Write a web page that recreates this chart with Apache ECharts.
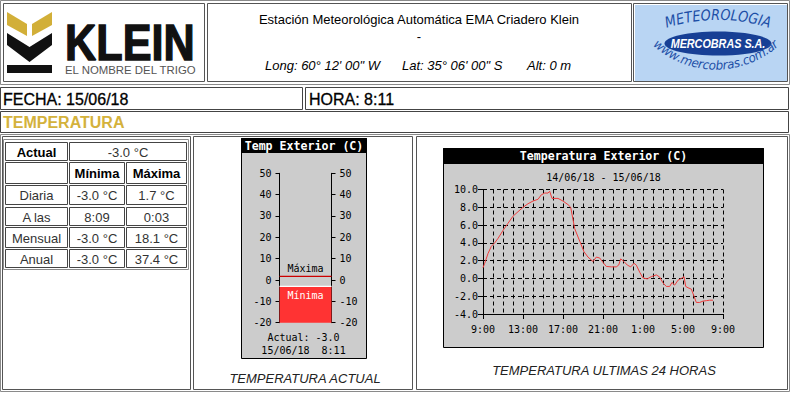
<!DOCTYPE html>
<html><head><meta charset="utf-8">
<script src="https://cdn.jsdelivr.net/npm/echarts@6/dist/echarts.min.js"></script>
<style>html,body{margin:0;padding:0;background:#fff}#c{width:791px;height:393px}</style>
</head><body><div id="c"></div>
<script>
// ---------------- DATA ----------------
const stationTitle = 'Estación Meteorológica Automática EMA Criadero Klein';
const coordTexts = ['Long: 60° 12\' 00" W', 'Lat: 35° 06\' 00" S', 'Alt: 0 m'];
const fecha = '15/06/18';
const hora = '8:11';
const actualTemp = -3.0;
const statRows = ['Diaria', 'A las', 'Mensual', 'Anual'];
const statMin = ['-3.0 °C', '8:09', '-3.0 °C', '-3.0 °C'];
const statMax = ['1.7 °C', '0:03', '18.1 °C', '37.4 °C'];
const dayMin = -3.0;
const dayMax = 1.7;
const thermoScale = [-20, 50, 10];          // min, max, step
const hoursFrom9 = [0, 0.17, 0.5, 0.83, 1.17, 1.5, 2, 2.5, 3, 3.5, 4, 4.5, 5, 5.5, 5.83, 6.17, 6.5, 6.67, 6.9, 7.5, 8, 8.5, 8.77, 9.17, 9.67, 10.1, 10.5, 11, 11.33, 11.67, 12, 12.33, 12.83, 13.33, 13.57, 13.77, 14.1, 14.43, 14.77, 15.1, 15.33, 15.67, 16, 16.43, 16.83, 17.33, 17.67, 18, 18.33, 18.67, 18.9, 19.17, 19.5, 19.83, 20.1, 20.27, 20.5, 20.83, 21.1, 21.33, 21.67, 22, 22.33, 22.67, 23];
const temps24 = [1.2, 1.7, 2.8, 3.6, 4.0, 4.5, 5.4, 6.2, 7.0, 7.5, 8.0, 8.4, 8.7, 8.9, 9.4, 9.6, 9.6, 9.8, 9.0, 9.0, 8.7, 8.3, 8.0, 5.6, 4.2, 3.0, 2.4, 1.9, 2.4, 2.3, 1.8, 1.35, 1.3, 1.3, 1.5, 2.2, 1.9, 1.5, 1.3, 1.7, 1.5, 0.7, 0.05, -0.05, 0.2, 0.4, 0.15, -0.5, -0.9, -0.9, -0.45, -0.75, -0.2, 0.0, 0.2, -0.9, -1.05, -1.2, -2.0, -2.7, -2.7, -2.55, -2.5, -2.45, -2.45];
const timeLabels = ['9:00', '13:00', '17:00', '21:00', '1:00', '5:00', '9:00'];
const tempScale = [-4, 10, 2];
const dateRange = '14/06/18 - 15/06/18';

// ---------------- STYLE HELPERS ----------------
const SANS = '"Liberation Sans", Arial, sans-serif';
const MONO = '"DejaVu Sans Mono", monospace';
const GOLD = '#d4b23c';
const els = [];
function R(x, y, w, h, stroke, fill, z) {
  els.push({type: 'rect', z: z == null ? -5 : z, shape: {x, y, width: w, height: h},
    style: {fill: fill || 'none', stroke: stroke || null, lineWidth: 1}, silent: true});
}
function T(x, y, text, font, fill, align, extra, styleExtra) {
  els.push(Object.assign({type: 'text', z: 10, x, y, silent: true,
    style: Object.assign({text, font, fill: fill || '#000', align: align || 'left', verticalAlign: 'middle'}, styleExtra || {})}, extra || {}));
}
function P(points, fill) {
  els.push({type: 'polygon', z: -3, shape: {points}, style: {fill}, silent: true});
}
const mctx = document.createElement('canvas').getContext('2d');
function arcText(str, cx, cy, rad, font, fill, top, sx) {
  mctx.font = font;
  const chars = [...str];
  const w = chars.map(c => mctx.measureText(c).width * sx);
  const total = w.reduce((a, b) => a + b, 0);
  let off = -total / 2;
  chars.forEach((ch, i) => {
    const a = (off + w[i] / 2) / rad; off += w[i];
    const x = cx + rad * Math.sin(a);
    const y = top ? cy - rad * Math.cos(a) : cy + rad * Math.cos(a);
    els.push({type: 'text', z: 10, x, y, rotation: top ? -a : a, scaleX: sx, silent: true,
      style: {text: ch, font, fill, align: 'center', verticalAlign: 'bottom'}});
  });
}

// ---------------- TOP HEADER ----------------
R(0.5, 0.5, 789, 84, '#8a8a8a');
R(3.5, 3.5, 201, 78, '#555');
R(207.5, 3.5, 424, 78, '#555');
R(633.5, 3.5, 154, 78, '#555');
// Klein logo
P([[7, 12], [27, 24], [27, 36], [7, 25]], '#d2af38');
P([[32, 24], [52, 12], [52, 25], [32, 36]], '#d2af38');
P([[7, 33], [29.5, 47], [52, 33], [52, 45], [29.5, 62], [7, 45]], '#111');
P([[7, 65], [52, 65], [52, 73], [7, 73]], '#111');
T(65, 43, 'KLEIN', 'bold 50px ' + SANS, '#111', 'left', {scaleX: 0.865}, {stroke: '#111', lineWidth: 1.4});
T(65, 70, 'EL NOMBRE DEL TRIGO', '11.4px ' + SANS, '#555');
// Mercobras logo
R(635, 5, 152, 76, null, '#b9d5f3', -4);
els.push({type: 'ellipse', z: -2, shape: {cx: 718, cy: 43.5, rx: 53.5, ry: 12}, style: {fill: '#173f95'}, silent: true});
T(718, 44, 'MERCOBRAS S.A.', 'italic bold 12px ' + SANS, '#fff', 'center', {scaleX: 0.9});
arcText('METEOROLOGIA', 718, 190, 168, 'italic 15px "DejaVu Sans"', '#1c4ea6', true, 0.85);
arcText('www.mercobras.com.ar', 716, -25, 97, 'italic 12.5px "DejaVu Sans"', '#1c4ea6', false, 0.95);
// title texts
T(419, 19, stationTitle, '13px ' + SANS, '#000', 'center');
T(419, 36, '-', '13px ' + SANS, '#000', 'center');
T(265, 65, coordTexts[0], 'italic 13px ' + SANS);
T(402, 65, coordTexts[1], 'italic 13px ' + SANS);
T(527, 65, coordTexts[2], 'italic 13px ' + SANS);

// ---------------- FECHA / HORA / TEMPERATURA ----------------
R(0.5, 87.5, 302, 22, '#444');
R(305.5, 87.5, 483, 22, '#444');
T(3, 99, 'FECHA: ' + fecha, '16px ' + SANS, '#000', 'left', null, {stroke: '#000', lineWidth: 0.3});
T(309, 99, 'HORA: ' + hora, '16px ' + SANS, '#000', 'left', null, {stroke: '#000', lineWidth: 0.3});
R(0.5, 111.5, 788, 21, '#444');
T(3, 122, 'TEMPERATURA', 'bold 16px ' + SANS, GOLD);

// ---------------- BOTTOM FRAME ----------------
R(0.5, 134.5, 789, 257, '#8a8a8a');
R(2.5, 136.5, 188, 253, '#555');
R(193.5, 136.5, 219, 253, '#555');
R(416.5, 136.5, 371, 253, '#555');

// stats table
R(3.5, 139.5, 185, 130, '#8a8a8a');
const cols = [[5, 67], [69, 124], [126, 186]];
const rows = [[142, 160], [162, 183], [185, 204], [207, 225], [227, 247], [249, 267]];
function cell(x0, x1, r, text, bold) {
  R(x0 + 0.5, r[0] + 0.5, x1 - x0, r[1] - r[0], '#444');
  if (text) T((x0 + x1) / 2 + 0.5, (r[0] + r[1]) / 2 + 1, text, (bold ? 'bold ' : '') + '13px ' + SANS, bold ? '#000' : '#333', 'center');
}
cell(cols[0][0], cols[0][1], rows[0], 'Actual', true);
cell(cols[1][0], cols[2][1], rows[0], actualTemp.toFixed(1) + ' °C', false);
cell(cols[0][0], cols[0][1], rows[1], '', false);
cell(cols[1][0], cols[1][1], rows[1], 'Mínima', true);
cell(cols[2][0], cols[2][1], rows[1], 'Máxima', true);
statRows.forEach((name, i) => {
  cell(cols[0][0], cols[0][1], rows[i + 2], name, false);
  cell(cols[1][0], cols[1][1], rows[i + 2], statMin[i], false);
  cell(cols[2][0], cols[2][1], rows[i + 2], statMax[i], false);
});

// thermometer frame
R(241.5, 138.5, 125, 220, '#000', '#cccccc', -6);
R(241.5, 138.5, 125, 14, '#000', '#000', -5);
T(304, 146, 'Temp Exterior (C)', 'bold 11.6px ' + MONO, '#fff', 'center');
T(303.5, 337.5, 'Actual: ' + actualTemp.toFixed(1), '10px ' + MONO, '#000', 'center');
T(303.5, 350.5, fecha + '  ' + hora, '10px ' + MONO, '#000', 'center');
T(305, 378, 'TEMPERATURA ACTUAL', 'italic 13px ' + SANS, '#222', 'center');

// line chart frame
R(443.5, 148.5, 320, 199, '#000', '#cccccc', -6);
R(443.5, 148.5, 320, 15, '#000', '#000', -5);
T(603.5, 156, 'Temperatura Exterior (C)', 'bold 11.6px ' + MONO, '#fff', 'center');
T(603.5, 177.5, dateRange, '10px ' + MONO, '#000', 'center');
T(604, 370, 'TEMPERATURA ULTIMAS 24 HORAS', 'italic 13px ' + SANS, '#222', 'center');

// ---------------- CHARTS ----------------
const axisFont = {fontFamily: MONO, fontSize: 10, color: '#000'};
const blackLine = {color: '#000', width: 1};
const dash = {color: '#000', width: 1, type: [4, 3]};
const thermoAxis = (pos) => ({
  gridIndex: 0, type: 'value', position: pos, min: thermoScale[0], max: thermoScale[1], interval: thermoScale[2],
  axisLine: {show: true, lineStyle: blackLine}, axisTick: {show: true, length: 4, lineStyle: blackLine},
  axisLabel: Object.assign({margin: 8}, axisFont), splitLine: {show: false}
});

const chart = echarts.init(document.getElementById('c'), null, {renderer: 'svg'});
chart.setOption({
  animation: false,
  backgroundColor: '#fff',
  grid: [
    {left: 279.5, top: 173.3, width: 52, height: 149.4, containLabel: false, outerBoundsMode: 'none'},
    {left: 483, top: 189.5, width: 240, height: 124.5, containLabel: false, outerBoundsMode: 'none'}
  ],
  xAxis: [
    {gridIndex: 0, type: 'value', min: 0, max: 1, show: false},
    {gridIndex: 1, type: 'value', min: 0, max: 24, interval: 4,
      axisLine: {show: true, onZero: false, lineStyle: blackLine},
      axisTick: {show: true, length: 5, lineStyle: blackLine},
      axisLabel: Object.assign({margin: 10, formatter: v => timeLabels[Math.round(v / 4)]}, axisFont),
      splitLine: {show: true, lineStyle: dash},
      minorTick: {show: false, splitNumber: 4},
      minorSplitLine: {show: true, lineStyle: dash}}
  ],
  yAxis: [
    thermoAxis('left'),
    thermoAxis('right'),
    {gridIndex: 1, type: 'value', min: tempScale[0], max: tempScale[1], interval: tempScale[2],
      axisLine: {show: true, onZero: false, lineStyle: blackLine},
      axisTick: {show: true, length: 5, lineStyle: blackLine},
      axisLabel: Object.assign({margin: 5, formatter: v => v.toFixed(1)}, axisFont),
      splitLine: {show: true, lineStyle: dash}}
  ],
  graphic: {elements: els},
  series: [
    {type: 'custom', xAxisIndex: 0, yAxisIndex: 0, silent: true, z: 3,
      data: [[0, actualTemp, dayMax, dayMin]],
      renderItem: (params, api) => {
        const cur = api.value(1), mx = api.value(2), mn = api.value(3);
        const base = api.coord([0, thermoScale[0]]);
        const top = api.coord([1, cur]);
        const maxL = api.coord([0, mx]), maxR = api.coord([1, mx]);
        const minL = api.coord([0, mn]), minR = api.coord([1, mn]);
        const cx = (base[0] + top[0]) / 2;
        return {type: 'group', children: [
          {type: 'rect', shape: {x: base[0], y: top[1], width: top[0] - base[0], height: base[1] - top[1]}, style: {fill: '#ff3333'}},
          {type: 'line', shape: {x1: minL[0], y1: minL[1], x2: minR[0], y2: minR[1]}, style: {stroke: '#fff', lineWidth: 1.2}},
          {type: 'line', shape: {x1: maxL[0], y1: maxL[1], x2: maxR[0], y2: maxR[1]}, style: {stroke: '#cc0000', lineWidth: 1.2}},
          {type: 'text', x: cx, y: maxL[1] - 8, style: {text: 'Máxima', font: '10px ' + MONO, fill: '#000', align: 'center', verticalAlign: 'middle'}},
          {type: 'text', x: cx, y: minL[1] + 9, style: {text: 'Mínima', font: '10px ' + MONO, fill: '#fff', align: 'center', verticalAlign: 'middle'}}
        ]};
      }},
    {type: 'line', xAxisIndex: 1, yAxisIndex: 2, silent: true, showSymbol: false, symbol: 'none', z: 3,
      data: hoursFrom9.map((h, i) => [h, temps24[i]]),
      lineStyle: {color: '#f03c3c', width: 1}}
  ]
});
</script>
</body></html>
